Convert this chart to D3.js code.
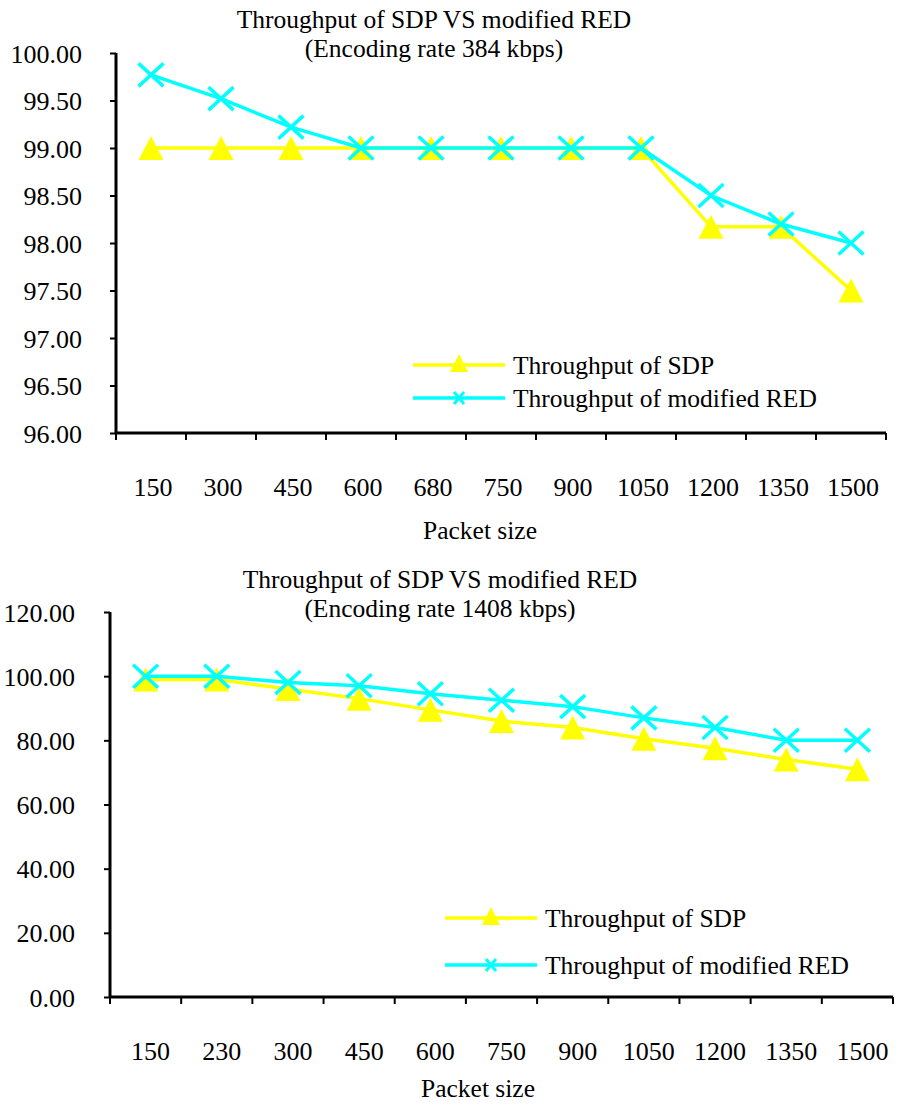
<!DOCTYPE html>
<html>
<head>
<meta charset="utf-8">
<script src="https://cdn.jsdelivr.net/npm/d3@7"></script>
<style>
  body { margin: 0; background: #fff; }
  text { font-family: "Liberation Serif", "Times New Roman", serif; fill: #000; }
</style>
</head>
<body>
<div id="chart"></div>
<script>
// data for the top chart (384 kbps)
var sizes1 = ["150", "300", "450", "600", "680", "750", "900", "1050", "1200", "1350", "1500"];
var sdp1 = [99, 99, 99, 99, 99, 99, 99, 99, 98.17, 98.17, 97.5];
var red1 = [99.77, 99.52, 99.22, 99, 99, 99, 99, 99, 98.5, 98.2, 98.0];
var yTicks1 = [96, 96.5, 97, 97.5, 98, 98.5, 99, 99.5, 100];

// data for the bottom chart (1408 kbps)
var sizes2 = ["150", "230", "300", "450", "600", "750", "900", "1050", "1200", "1350", "1500"];
var sdp2 = [99, 99, 96, 93, 89.5, 86, 84, 80.5, 77.5, 74, 71];
var red2 = [100, 100, 98, 97, 94.5, 92.5, 90.5, 87, 84, 80, 80];
var yTicks2 = [0, 20, 40, 60, 80, 100, 120];

var seriesNames = ["Throughput of SDP", "Throughput of modified RED"];
var yellow = "#ffff00", cyan = "#00ffff";
var serif = "'Liberation Serif', 'Times New Roman', serif";

var svg = d3.select("#chart")
  .append("svg")
    .attr("width", 898)
    .attr("height", 1106);

// triangle marker, w wide and h tall, centred on the point
function triangle(g, cx, cy, w, h) {
  g.append("path")
    .attr("d", "M" + cx + "," + (cy - h / 2) + "L" + (cx + w / 2) + "," + (cy + h / 2) +
               "L" + (cx - w / 2) + "," + (cy + h / 2) + "Z")
    .attr("fill", yellow);
}

function cross(g, cx, cy, rx, ry) {
  g.append("path")
    .attr("d", "M" + (cx - rx) + "," + (cy - ry) + "L" + (cx + rx) + "," + (cy + ry) +
               "M" + (cx - rx) + "," + (cy + ry) + "L" + (cx + rx) + "," + (cy - ry))
    .attr("stroke", cyan)
    .attr("stroke-width", 3.5)
    .attr("fill", "none");
}

function drawChart(c) {
  var g = svg.append("g");

  var x = d3.scaleBand()
    .domain(c.sizes)
    .range([c.left, c.right])
    .padding(0);

  var y = d3.scaleLinear()
    .domain([c.yTicks[0], c.yTicks[c.yTicks.length - 1]])
    .range([c.bottom, c.top]);

  // title
  g.append("text")
    .attr("x", c.titleX).attr("y", c.titleY)
    .attr("text-anchor", "middle")
    .style("font-size", "25.5px")
    .text("Throughput of SDP VS modified RED");
  g.append("text")
    .attr("x", c.titleX).attr("y", c.titleY + 29)
    .attr("text-anchor", "middle")
    .style("font-size", "25.5px")
    .text(c.subtitle);

  // Y axis
  var yAxis = g.append("g")
    .attr("transform", "translate(" + c.left + ",0)")
    .call(d3.axisLeft(y).tickValues(c.yTicks).tickFormat(d3.format(".2f")).tickSize(6).tickPadding(c.yPad));
  yAxis.attr("font-family", null).attr("font-size", null);
  yAxis.select(".domain").attr("stroke", "#000").attr("stroke-width", 3)
    .attr("d", "M0," + c.top + "V" + c.bottom);
  yAxis.selectAll(".tick line").attr("stroke", "#000").attr("stroke-width", 2);
  yAxis.selectAll(".tick text")
    .attr("dy", "0.35em")
    .style("font-size", "26px")
    .style("font-family", serif);

  // X axis line, ticks at category boundaries, labels at centres
  g.append("line")
    .attr("x1", c.left).attr("x2", c.right)
    .attr("y1", c.bottom).attr("y2", c.bottom)
    .attr("stroke", "#000").attr("stroke-width", 3);
  var bounds = c.sizes.map(function(d) { return x(d); }).concat([c.right]);
  g.selectAll(".xtick")
    .data(bounds)
    .enter().append("line")
    .attr("x1", function(d) { return d; }).attr("x2", function(d) { return d; })
    .attr("y1", c.bottom).attr("y2", c.bottom + 7)
    .attr("stroke", "#000").attr("stroke-width", 2);
  g.selectAll(".xlab")
    .data(c.sizes)
    .enter().append("text")
    .attr("x", function(d) { return x(d) + x.bandwidth() / 2 + c.labelShift; })
    .attr("y", c.bottom + 63)
    .attr("text-anchor", "middle")
    .style("font-size", "26px")
    .text(function(d) { return d; });

  g.append("text")
    .attr("x", c.xTitleX).attr("y", c.bottom + c.xTitleGap)
    .attr("text-anchor", "middle")
    .style("font-size", "25.5px")
    .text("Packet size");

  var cx = function(i) { return x(c.sizes[i]) + x.bandwidth() / 2; };
  var line = d3.line()
    .x(function(d, i) { return cx(i); })
    .y(function(d) { return y(d); });

  // SDP series
  g.append("path")
    .datum(c.sdp)
    .attr("d", line)
    .attr("fill", "none")
    .attr("stroke", yellow)
    .attr("stroke-width", 3.5);
  c.sdp.forEach(function(v, i) { triangle(g, cx(i), y(v), 25, 24); });

  // modified RED series
  g.append("path")
    .datum(c.red)
    .attr("d", line)
    .attr("fill", "none")
    .attr("stroke", cyan)
    .attr("stroke-width", 3.5);
  c.red.forEach(function(v, i) { cross(g, cx(i), y(v), 12.5, 11.5); });

  // legend
  var lx = c.legendX, ly = c.legendY;
  [yellow, cyan].forEach(function(col, k) {
    var yy = ly + k * c.legendGap;
    g.append("line")
      .attr("x1", lx).attr("x2", lx + 92)
      .attr("y1", yy).attr("y2", yy)
      .attr("stroke", col).attr("stroke-width", 3.5);
    if (k == 0) triangle(g, lx + 46, yy - 2, 18, 18);
    else {
      g.append("path")
        .attr("d", "M" + (lx + 41) + "," + (yy - 6) + "L" + (lx + 51) + "," + (yy + 6) +
                   "M" + (lx + 41) + "," + (yy + 6) + "L" + (lx + 51) + "," + (yy - 6))
        .attr("stroke", col).attr("stroke-width", 3);
    }
    g.append("text")
      .attr("x", lx + 100).attr("y", yy + 9)
      .style("font-size", "25.5px")
      .text(seriesNames[k]);
  });
}

drawChart({
  sizes: sizes1, sdp: sdp1, red: red1, yTicks: yTicks1,
  left: 116, right: 886, top: 53, bottom: 433, yPad: 28,
  titleX: 434, titleY: 28, subtitle: "(Encoding rate 384 kbps)",
  xTitleX: 480, xTitleGap: 106, labelShift: 2,
  legendX: 413, legendY: 365, legendGap: 33
});

drawChart({
  sizes: sizes2, sdp: sdp2, red: red2, yTicks: yTicks2,
  left: 110, right: 893, top: 612, bottom: 997, yPad: 29,
  titleX: 440, titleY: 588, subtitle: "(Encoding rate 1408 kbps)",
  xTitleX: 478, xTitleGap: 100, labelShift: 5,
  legendX: 445, legendY: 918, legendGap: 47
});
</script>
</body>
</html>
